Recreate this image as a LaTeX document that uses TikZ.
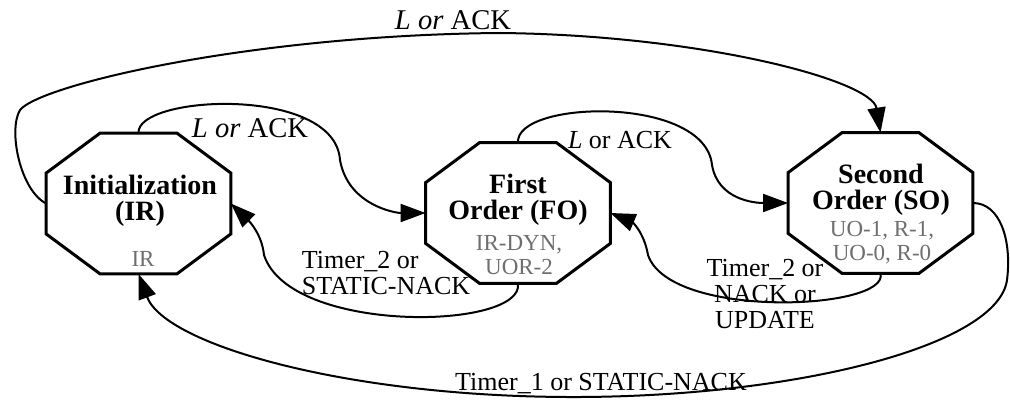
\documentclass[tikz,border=0pt]{standalone}
\usepackage{fontspec}
\setmainfont{Liberation Serif}
\usetikzlibrary{arrows.meta}
\definecolor{stategray}{RGB}{110,110,110}
\tikzset{
  state/.style={minimum width=92pt,minimum height=70pt,inner sep=0pt},
  octa/.style={line width=1.5pt,line join=miter},
  title/.style={font=\fontsize{14}{13}\selectfont\bfseries,align=center,inner sep=0pt},
  content/.style={font=\fontsize{11.5}{12}\selectfont,text=stategray,align=center,inner sep=0pt},
  lbl/.style={font=\fontsize{13}{13}\selectfont,inner sep=0pt},
  biglbl/.style={font=\fontsize{14.3}{14}\selectfont,inner sep=0pt},
  trans/.style={line width=1pt,-{Triangle[length=12.5pt,width=9pt]}}
}
\begin{document}
\begin{tikzpicture}[x=0.5pt,y=-0.5pt]
  \useasboundingbox (0,0) rectangle (1010,401);
  % states
  \node[state] (ir) at (138.5,203.5) {};
  \node[state] (fo) at (518,213) {};
  \node[state] (so) at (880.5,203) {};
  \foreach \s in {ir,fo,so}
    \draw[octa] ([xshift=27pt]\s.north west) -- ([xshift=-27pt]\s.north east)
      -- ([yshift=-20pt]\s.north east) -- ([yshift=20pt]\s.south east)
      -- ([xshift=-27pt]\s.south east) -- ([xshift=27pt]\s.south west)
      -- ([yshift=20pt]\s.south west) -- ([yshift=-20pt]\s.north west) -- cycle;
  \node[title] (irtitle) at (140,201) {Initialization\\(IR)};
  \node[content] (ircontent) at (143,259) {IR};
  \node[title] (fotitle) at (518,200) {First\\Order (FO)};
  \node[content] (focontent) at (519,255) {IR-DYN,\\UOR-2};
  \node[title] (sotitle) at (881,190) {Second\\Order (SO)};
  \node[content] (socontent) at (882,243) {UO-1, R-1,\\UO-0, R-0};

  % transitions
  \draw[trans] (ir.north) .. controls (136,95) and (335,85) .. (340,160)
    .. controls (348,205) and (395,213) .. (fo.west);
  \draw[trans] (fo.north) .. controls (515,100) and (705,95) .. (712,165)
    .. controls (718,200) and (755,203) .. (so.west);
  \draw[trans] (ir.west) .. controls (20,190) and (8,130) .. (20,110)
    .. controls (40,85) and (250,35) .. (500,33)
    .. controls (700,35) and (872,80) .. (so.north);
  \draw[trans] (fo.south) .. controls (525,330) and (290,335) .. (264,255)
    .. controls (262,235) and (250,222) .. (ir.east);
  \draw[trans] (so.south) .. controls (890,310) and (670,320) .. (648,255)
    .. controls (644,232) and (632,222) .. (fo.east);
  \draw[trans] (so.east) .. controls (1000,203) and (1012,240) .. (1007,280)
    .. controls (998,345) and (800,396) .. (580,397)
    .. controls (350,398) and (165,345) .. (ir.south);

  % labels
  \node[biglbl] (lacktop) at (453,20) {\textit{L or} ACK};
  \node[biglbl] (lackirfo) at (250,128) {\textit{L or} ACK};
  \node[lbl] (lackfoso) at (620,140) {\textit{L} or ACK};
  \node[lbl,align=left] (timerfoir) at (386,273) {Timer\_2 or\\STATIC-NACK};
  \node[lbl,align=center] (timersofo) at (765,294) {Timer\_2 or\\NACK or\\UPDATE};
  \node[lbl] (timersoir) at (601,384) {Timer\_1 or STATIC-NACK};
\end{tikzpicture}
\end{document}
